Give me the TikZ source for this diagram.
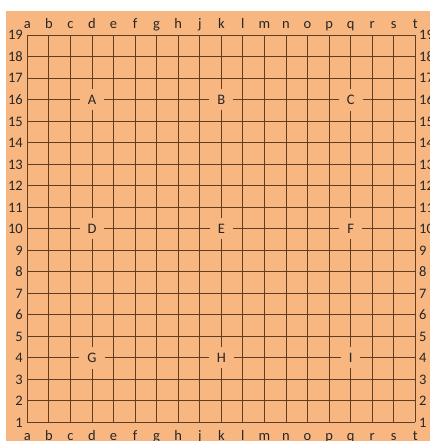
\documentclass[tikz,border=0pt]{standalone}
\usepackage{fontspec}
\setmainfont{Carlito}
\definecolor{board}{RGB}{248,183,128}
\definecolor{gridc}{RGB}{95,62,35}
\begin{document}
\begin{tikzpicture}[x=1pt,y=-1pt,
  every node/.style={font=\fontsize{14.5}{16}\selectfont, text=black!85, inner sep=0pt},
  gridline/.style={gridc, line width=0.9pt},
  starlabel/.style={fill=board, inner xsep=8pt, inner ysep=6pt}]
\useasboundingbox (0,0) rectangle (430,441);
\clip (0,0) rectangle (430,441);
\fill[board] (6,11) rectangle (430,441);
\foreach \i in {0,...,18} {
  \draw[gridline] ({27.3+\i*21.556},35.3) -- ({27.3+\i*21.556},422.3);
  \draw[gridline] (27.3,{35.3+\i*21.5}) -- (415.3,{35.3+\i*21.5});
}
\foreach \l [count=\i from 0] in {a,b,c,d,e,f,g,h,j,k,l,m,n,o,p,q,r,s,t} {
  \node[anchor=base] (top\l) at ({27.3+\i*21.556},28.3) {\l};
  \node[anchor=base] (bot\l) at ({27.3+\i*21.556},440) {\l};
}
\foreach \n [count=\j from 0] in {19,18,...,1} {
  \node[anchor=base east] (L\n) at (23,{35.3+\j*21.5+4.7}) {\n};
  \node[anchor=base west] (R\n) at (419,{35.3+\j*21.5+4.7}) {\n};
}
\foreach \t/\i/\j in {A/3/3,B/9/3,C/15/3,D/3/9,E/9/9,F/15/9,G/3/15,H/9/15,I/15/15} {
  \node[starlabel] (star\t) at ({27.3+\i*21.556},{35.3+\j*21.5}) {\t};
}
\end{tikzpicture}
\end{document}
